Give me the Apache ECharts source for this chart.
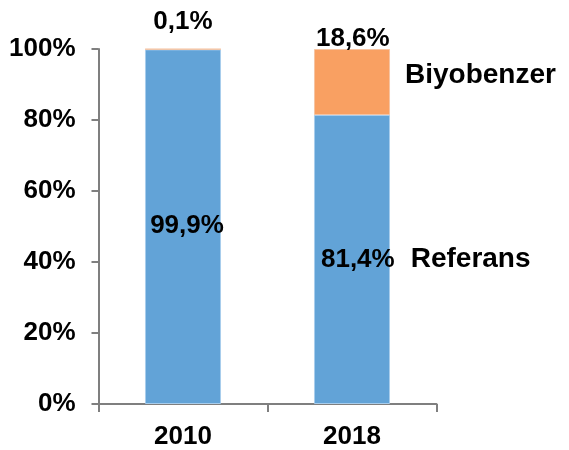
<!DOCTYPE html>
<html>
<head>
<meta charset="utf-8">
<script src="https://cdn.jsdelivr.net/npm/echarts@6/dist/echarts.min.js"></script>
<style>
  html, body { margin: 0; padding: 0; background: #fff; }
  #chart { width: 569px; height: 450px; }
</style>
</head>
<body>
<div id="chart"></div>
<script>
// 数据
var categories = ['2010', '2018'];
var seriesNames = ['Referans', 'Biyobenzer'];
var referans = [99.9, 81.4];
var biyobenzer = [0.1, 18.6];
var yTicks = [0, 20, 40, 60, 80, 100];

var FONT = 'Liberation Sans, Arial, sans-serif';
var axisColor = '#7f7f7f';

function pct(v) {
    return v.toFixed(1).replace('.', ',') + '%';
}

// 蓝色(Referans)标签
var refData = referans.map(function (v, i) {
    if (i == referans.length - 1) {
        return {
            value: v,
            label: {
                position: 'insideLeft',
                distance: 5,
                offset: [2, 0],
                formatter: '{v|' + pct(v) + '}{n|' + seriesNames[0] + '}',
                rich: {
                    v: { fontSize: 26, fontWeight: 'bold', fontFamily: FONT, color: '#000' },
                    n: { fontSize: 28, fontWeight: 'bold', fontFamily: FONT, color: '#000', padding: [0, 0, 0, 16] }
                }
            }
        };
    }
    return { value: v, label: { position: 'inside', offset: [4, -1], formatter: pct(v) } };
});

// 橙色(Biyobenzer)标签
var bioData = biyobenzer.map(function (v, i) {
    if (i == biyobenzer.length - 1) {
        return {
            value: v,
            label: {
                position: 'insideLeft',
                distance: 2,
                offset: [0, -25],
                formatter: '{v|' + pct(v) + '}\n{n|' + seriesNames[1] + '}',
                rich: {
                    v: { fontSize: 26, fontWeight: 'bold', fontFamily: FONT, color: '#000', lineHeight: 36 },
                    n: { fontSize: 28, fontWeight: 'bold', fontFamily: FONT, color: '#000', lineHeight: 36, padding: [0, 0, 0, 89] }
                }
            }
        };
    }
    return { value: v, label: { position: 'top', offset: [0, -9], formatter: pct(v) } };
});

var myChart = echarts.init(document.getElementById('chart'), null, { renderer: 'canvas' });
myChart.setOption({
    animation: false,
    backgroundColor: '#fff',
    grid: { left: 98.5, right: 132.5, top: 49, bottom: 45, containLabel: false },
    xAxis: {
        type: 'category',
        data: categories,
        axisLine: { lineStyle: { color: axisColor, width: 2 } },
        axisTick: { show: true, alignWithLabel: false, length: 8, lineStyle: { color: axisColor, width: 2 } },
        axisLabel: { color: '#000', fontSize: 26, fontWeight: 'bold', fontFamily: FONT, margin: 20 }
    },
    yAxis: {
        type: 'value',
        min: yTicks[0],
        max: yTicks[yTicks.length - 1],
        interval: yTicks[1] - yTicks[0],
        axisLine: { show: true, lineStyle: { color: axisColor, width: 2 } },
        axisTick: { show: true, length: 7, lineStyle: { color: axisColor, width: 2 } },
        splitLine: { show: false },
        axisLabel: { color: '#000', fontSize: 26, fontWeight: 'bold', fontFamily: FONT, margin: 23, formatter: '{value}%' }
    },
    series: [
        {
            name: seriesNames[0],
            type: 'bar',
            stack: 'total',
            barWidth: '45%',
            itemStyle: { color: '#62a3d7', borderColor: '#a8cdec', borderWidth: 1 },
            label: { show: true, color: '#000', fontSize: 26, fontWeight: 'bold', fontFamily: FONT },
            data: refData
        },
        {
            name: seriesNames[1],
            type: 'bar',
            stack: 'total',
            barWidth: '45%',
            itemStyle: { color: '#f9a062', borderColor: '#f6c4a2', borderWidth: 1 },
            label: { show: true, color: '#000', fontSize: 26, fontWeight: 'bold', fontFamily: FONT },
            data: bioData
        }
    ]
});
</script>
</body>
</html>
